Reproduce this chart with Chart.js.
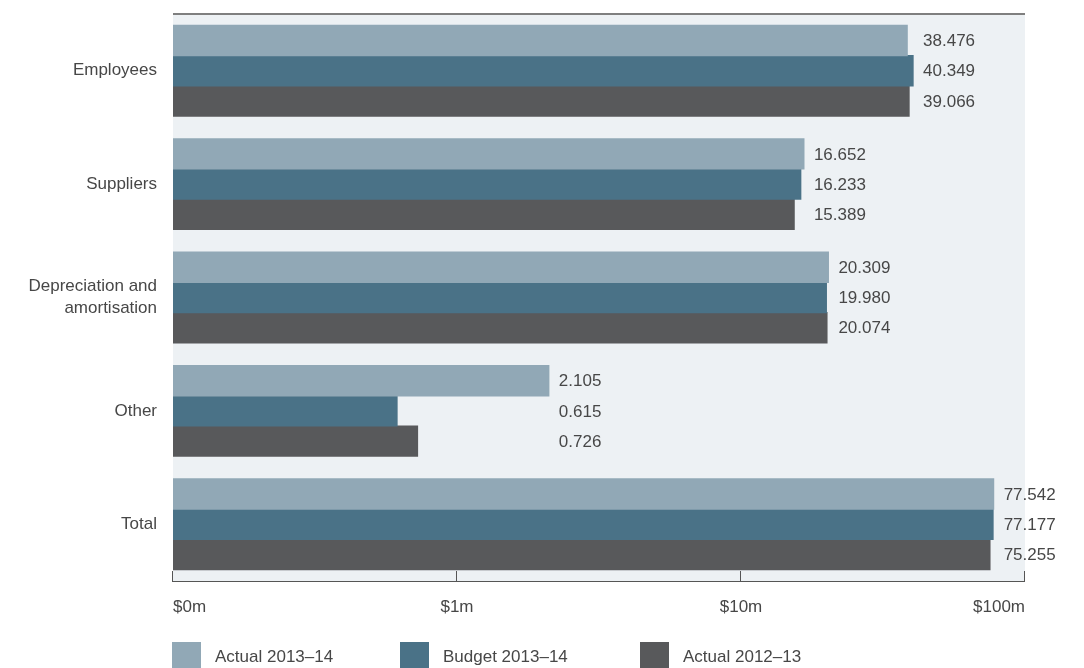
<!DOCTYPE html>
<html>
<head>
<meta charset="utf-8">
<script src="https://cdn.jsdelivr.net/npm/chart.js@4.4.1/dist/chart.umd.min.js"></script>
<style>
  html, body { margin: 0; padding: 0; background: #ffffff; }
  #wrap { width: 1084px; height: 668px; position: relative; }
</style>
</head>
<body>
<div id="wrap"><canvas id="c" width="1084" height="668"></canvas></div>
<script>
const categories = ["Employees", "Suppliers", ["Depreciation and", "amortisation"], "Other", "Total"];
const seriesNames = ["Actual 2013\u201314", "Budget 2013\u201314", "Actual 2012\u201313"];
const actual2014 = [38.476, 16.652, 20.309, 2.105, 77.542];
const budget2014 = [40.349, 16.233, 19.980, 0.615, 77.177];
const actual2013 = [39.066, 15.389, 20.074, 0.726, 75.255];
const tickValues = [0.1, 1, 10, 100];
const tickLabels = ["$0m", "$1m", "$10m", "$100m"];

const COLORS = ["#91a8b6", "#4a7287", "#58595b"];
const FONT = "'Liberation Sans', Arial, Helvetica, sans-serif";
const TEXT = "#474747";

const decorPlugin = {
  id: 'decor',
  beforeDraw(chart) {
    const ctx = chart.ctx, a = chart.chartArea;
    ctx.save();
    ctx.fillStyle = '#edf1f4';
    ctx.fillRect(a.left, a.top, a.right - a.left, a.bottom - a.top);
    ctx.restore();
  },
  afterDraw(chart) {
    const ctx = chart.ctx, a = chart.chartArea;
    const xs = chart.scales.x;
    ctx.save();
    ctx.strokeStyle = '#7f7f7f';
    ctx.lineWidth = 2;
    ctx.beginPath();
    ctx.moveTo(a.left, a.top);
    ctx.lineTo(a.right, a.top);
    ctx.stroke();
    ctx.strokeStyle = '#555555';
    ctx.lineWidth = 1;
    ctx.beginPath();
    ctx.moveTo(a.left, Math.round(a.bottom) + 0.5);
    ctx.lineTo(a.right, Math.round(a.bottom) + 0.5);
    xs.ticks.forEach(t => {
      const px = Math.round(xs.getPixelForValue(t.value)) - 0.5;
      ctx.moveTo(px, a.bottom - 10);
      ctx.lineTo(px, Math.round(a.bottom) + 1);
    });
    ctx.stroke();

    ctx.font = '17px ' + FONT;
    ctx.fillStyle = TEXT;
    ctx.textBaseline = 'middle';
    ctx.textAlign = 'left';
    const n = chart.data.labels.length;
    for (let i = 0; i < n; i++) {
      let maxX = -Infinity;
      chart.data.datasets.forEach((ds, d) => {
        maxX = Math.max(maxX, chart.getDatasetMeta(d).data[i].x);
      });
      chart.data.datasets.forEach((ds, d) => {
        const el = chart.getDatasetMeta(d).data[i];
        ctx.fillText(ds.data[i].toFixed(3), maxX + 10, el.y + 1);
      });
    }

    const legendX = [172, 400, 640];
    const boxTop = 642;
    chart.data.datasets.forEach((ds, d) => {
      const x = legendX[d];
      ctx.fillStyle = ds.backgroundColor;
      ctx.fillRect(x, boxTop, 29, 27);
      ctx.fillStyle = TEXT;
      ctx.fillText(ds.label, x + 43, boxTop + 15);
    });
    ctx.restore();
  }
};

new Chart(document.getElementById('c'), {
  type: 'bar',
  data: {
    labels: categories,
    datasets: [
      { label: seriesNames[0], data: actual2014, backgroundColor: COLORS[0] },
      { label: seriesNames[1], data: budget2014, backgroundColor: COLORS[1] },
      { label: seriesNames[2], data: actual2013, backgroundColor: COLORS[2] }
    ]
  },
  options: {
    indexAxis: 'y',
    responsive: false,
    animation: false,
    devicePixelRatio: 1,
    layout: { padding: { top: 14, right: 59, bottom: 50, left: 0 } },
    datasets: { bar: { categoryPercentage: 0.8, barPercentage: 1.0, borderWidth: 0, inflateAmount: 0.6 } },
    plugins: { legend: { display: false }, tooltip: { enabled: false } },
    scales: {
      x: {
        type: 'logarithmic',
        min: 0.1,
        max: 100,
        afterBuildTicks(scale) { scale.ticks = tickValues.map(v => ({ value: v })); },
        afterFit(scale) { scale.height = 37; scale.paddingLeft = 0; scale.paddingRight = 0; },
        grid: { display: false, drawTicks: false },
        border: { display: false },
        ticks: {
          align: 'inner',
          padding: 16,
          color: TEXT,
          font: { family: FONT, size: 17 },
          maxRotation: 0,
          autoSkip: false,
          callback(value, index) { return tickLabels[index]; }
        }
      },
      y: {
        type: 'category',
        afterFit(scale) { scale.width = 173; scale.paddingTop = 0; scale.paddingBottom = 0; },
        grid: { display: false, drawTicks: false },
        border: { display: false },
        ticks: {
          padding: 16,
          color: TEXT,
          font: { family: FONT, size: 17, lineHeight: 1.3 },
          autoSkip: false
        }
      }
    }
  },
  plugins: [decorPlugin]
});
</script>
</body>
</html>
